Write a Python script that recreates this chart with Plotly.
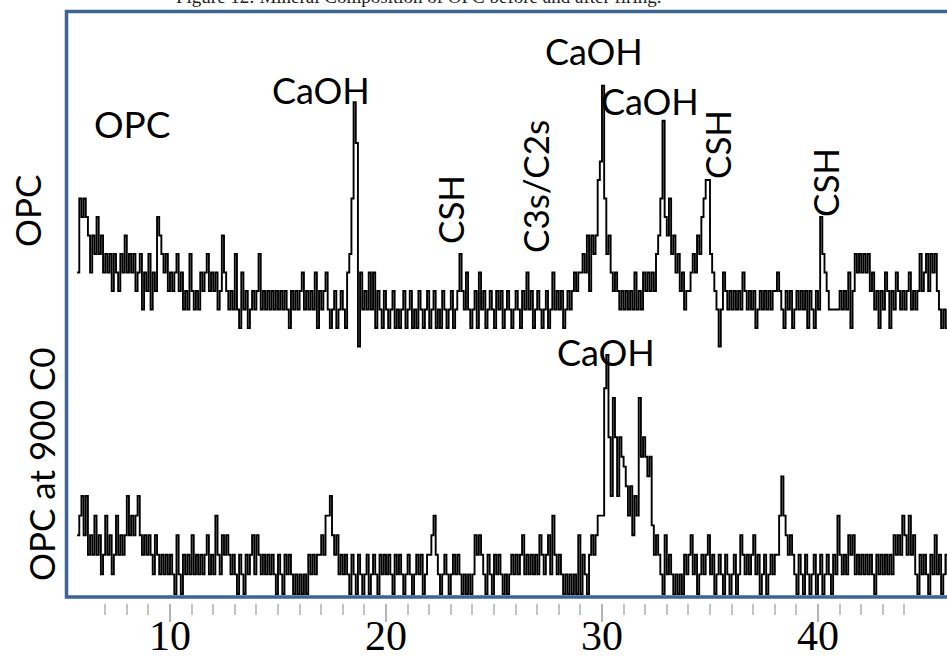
import plotly.graph_objects as go

# ---------------- data ----------------
TWO_THETA_START = 5.7   # degrees 2-theta of first sample
TWO_THETA_STEP = 0.1    # sampling step (degrees)

# intensity levels (counts, arbitrary units) of the untreated OPC pattern
OPC = [
    3, 7, 6,
    7, 6, 5, 3, 5, 4, 6, 4, 5, 3,
    4, 3, 4, 2, 4, 3, 2, 4, 3, 5,
    3, 4, 3, 4, 2, 3, 4, 1, 3, 2,
    4, 1, 3, 2, 6, 5, 4, 3, 4, 2,
    3, 2, 3, 4, 2, 3, 1, 2, 1, 4,
    2, 1, 2, 1, 3, 2, 3, 4, 2, 3,
    2, 3, 1, 2, 5, 3, 2, 1, 2, 1,
    4, 1, 0, 3, 1, 2, 0, 1, 2, 1,
    2, 4, 1, 2, 1, 2, 1, 2, 1, 2,
    1, 2, 1, 2, 1, 0, 2, 1, 2, 1,
    2, 3, 1, 2, 1, 2, 1, 3, 0, 2,
    1, 2, 3, 1, 0, 1, 2, 0, 1, 2,
    1, 0, 3, 4, 7, 12.2, 10, -1, 3, 1,
    2, 1, 3, 1, 3, 0, 2, 1, 0, 2,
    1, 0, 1, 2, 0, 1, 0, 1, 2, 0,
    1, 2, 0, 1, 0, 2, 1, 0, 1, 2,
    0, 1, 2, 0, 1, 0, 2, 1, 0, 1,
    2, 0, 1, 2, 4, 2, 1, 3, 1, 0,
    1, 2, 0, 3, 1, 2, 0, 1, 2, 1,
    0, 2, 1, 2, 0, 1, 2, 1, 0, 1,
    2, 1, 0, 2, 1, 3, 1, 2, 0, 1,
    2, 1, 0, 1, 2, 0, 1, 3, 1, 2,
    1, 2, 0, 1, 2, 1, 2, 3, 2, 3,
    3, 4, 3, 5, 2, 5, 4, 5, 8, 9,
    13.1, 7, 4, 5, 3, 2, 3, 2, 1, 2,
    1, 2, 1, 2, 1, 3, 1, 2, 1, 3,
    2, 3, 2, 3, 2, 4, 5, 7, 11.2, 6,
    5, 7, 4, 5, 3, 4, 2, 3, 1, 2,
    2, 3, 4, 3, 5, 4, 6, 7, 8, 8,
    4, 3, 2, 1, -1, 1, 3, 2, 1, 2,
    1, 2, 1, 2, 1, 3, 2, 1, 2, 1,
    2, 0, 1, 2, 1, 2, 1, 2, 1, 2,
    2, 3, 2, 1, 0, 2, 1, 2, 0, 1,
    2, 1, 2, 1, 2, 0, 2, 1, 0, 2,
    1, 6, 4, 3, 2, 1, 1, 1, 1, 1,
    2, 1, 2, 1, 3, 0, 2, 4, 3, 4,
    3, 4, 3, 4, 2, 3, 1, 2, 0, 2,
    1, 3, 2, 0, 2, 1, 3, 2, 1, 2,
    1, 2, 3, 1, 2, 1, 2, 4, 2, 3,
    4, 2, 4, 3, 4, 2, 1, 0, 1, 0,
    1,
]

# intensity levels of OPC fired at 900 C
OPC_900 = [
    3, 4, 5,
    3, 5, 2, 3, 2, 4, 2, 3, 1, 2,
    4, 2, 3, 1, 2, 4, 2, 3, 2, 3,
    5, 3, 4, 3, 4, 5, 3, 2, 3, 2,
    3, 2, 1, 3, 2, 1, 2, 1, 2, 1,
    2, 1, 0, 3, 1, 0, 2, 1, 2, 1,
    3, 1, 2, 1, 2, 1, 2, 3, 1, 2,
    1, 4, 2, 1, 3, 2, 3, 2, 1, 2,
    1, 0, 2, 1, 0, 2, 1, 2, 3, 1,
    3, 2, 1, 2, 1, 2, 1, 2, 1, 0,
    2, 1, 0, 2, 1, 2, 1, 0, 1, 0,
    1, 0, 1, 0, 2, 1, 2, 1, 2, 2,
    3, 2, 4, 4, 5, 3, 2, 3, 1, 2,
    1, 2, 1, 0, 2, 1, 0, 2, 1, 0,
    1, 2, 0, 1, 2, 1, 0, 2, 1, 2,
    1, 2, 1, 0, 2, 1, 2, 1, 0, 1,
    2, 1, 0, 1, 2, 1, 2, 0, 1, 2,
    2, 3, 4, 2, 1, 0, 1, 2, 1, 0,
    1, 2, 1, 2, 1, 0, 1, 0, 1, 0,
    1, 3, 2, 3, 2, 1, 0, 2, 1, 0,
    2, 1, 2, 1, 0, 1, 0, 1, 2, 1,
    2, 1, 2, 3, 1, 2, 1, 2, 1, 2,
    1, 3, 2, 1, 2, 3, 1, 4, 2, 1,
    2, 1, 0, 1, 0, 1, 0, 1, 0, 3,
    0, 2, 1, 0, 2, 3, 2, 3, 4, 4,
    4, 10.5, 12.2, 8, 5, 10, 8, 5, 8, 7,
    6.5, 5.5, 4, 5.5, 3, 5, 4, 10, 7, 8,
    7, 6, 7, 3.5, 2, 3, 2, 1, 0, 3,
    1, 2, 1, 0, 1, 0, 1, 0, 2, 1,
    2, 3, 1, 2, 0, 1, 2, 1, 2, 3,
    1, 2, 0, 1, 2, 1, 0, 2, 1, 0,
    1, 2, 0, 1, 3, 2, 1, 2, 1, 2,
    3, 1, 2, 0, 1, 2, 0, 1, 2, 1,
    2, 2, 4, 6, 4, 3, 2, 3, 2, 1,
    0, 2, 1, 0, 2, 1, 0, 1, 2, 0,
    1, 2, 0, 1, 2, 1, 0, 2, 1, 4,
    2, 1, 2, 1, 3, 2, 3, 1, 2, 1,
    2, 1, 2, 1, 2, 1, 0, 2, 1, 2,
    1, 2, 1, 2, 1, 3, 2, 3, 2, 4,
    3, 2, 4, 2, 3, 1, 0, 2, 1, 2,
    1, 0, 2, 1, 3, 1, 2, 0, 1, 2,
    1,
]

MAJOR_TICKS = [10, 20, 30, 40]
MINOR_TICKS = [7, 8, 9, 11, 12, 13, 14, 15, 16, 17, 18, 19, 21, 22, 23, 24, 25, 26,
               27, 28, 29, 31, 32, 33, 34, 35, 36, 37, 38, 39, 41, 42, 43, 44]

CAPTION = "Figure 12: Mineral Composition of OPC before and after firing."
ROW_LABELS = ["OPC", "OPC at 900 C0"]
PEAK_LABELS = ["OPC", "CaOH", "CSH", "C3s/C2s", "CaOH", "CaOH", "CSH", "CSH", "CaOH"]

# ---------------- layout / styling ----------------
W, H = 947, 670
ML, MT, MB = 67, 10, 67
PW, PH = W - ML, H - MT - MB

def xp(px):
    return (px - ML) / PW

def yp(py):
    return (H - MB - py) / PH

x = [round(TWO_THETA_START + i * TWO_THETA_STEP, 3) for i in range(len(OPC))]

# vertical placement of the two stacked patterns (y axis in plot pixels from bottom)
TOP_OFFSET, TOP_SCALE = 275.0, 18.5
BOT_OFFSET, BOT_SCALE = 9.0, 19.6
y_top = [TOP_OFFSET + TOP_SCALE * v for v in OPC]
y_bot = [BOT_OFFSET + BOT_SCALE * v for v in OPC_900]

fig = go.Figure()
for yy, name in ((y_top, ROW_LABELS[0]), (y_bot, ROW_LABELS[1])):
    fig.add_trace(go.Scatter(x=x, y=yy, mode="lines", name=name,
                             line=dict(color="black", width=1.9, shape="hv"),
                             hoverinfo="skip", showlegend=False))

SANS = "Lato, 'Open Sans', sans-serif"
SERIF = "'Liberation Serif', 'Times New Roman', serif"

annotations = []
# peak / panel labels : (px, py, angle, size)
peak_pos = [(132, 123, 0, 37), (321, 90, 0, 36), (450, 210, -90, 35), (535, 187, -90, 35),
            (594, 51, 0, 36), (650, 101, 0, 36), (717, 145, -90, 35), (825, 183, -90, 35),
            (606, 352, 0, 36)]
for txt, (px, py, ang, sz) in zip(PEAK_LABELS, peak_pos):
    annotations.append(dict(text=txt, x=xp(px), y=yp(py), xref="paper", yref="paper",
                            showarrow=False, textangle=ang, xanchor="center", yanchor="middle",
                            font=dict(family=SANS, size=sz, color="black")))
row_pos = [(27, 211), (41, 464)]
for txt, (px, py) in zip(ROW_LABELS, row_pos):
    annotations.append(dict(text=txt, x=xp(px), y=yp(py), xref="paper", yref="paper",
                            showarrow=False, textangle=-90, xanchor="center", yanchor="middle",
                            font=dict(family=SANS, size=35, color="black")))
annotations.append(dict(text=CAPTION, x=xp(418), y=yp(-3), xref="paper", yref="paper",
                        showarrow=False, xanchor="center", yanchor="middle",
                        font=dict(family=SERIF, size=19, color="#222222")))

shapes = [dict(type="rect", xref="paper", yref="paper", x0=xp(66.5), x1=1.05,
               y0=yp(597), y1=yp(11.5), line=dict(color="#3e6494", width=3.5),
               fillcolor="rgba(0,0,0,0)", layer="above")]

px_per_deg = 21.6
x0 = 10 - (170 - ML) / px_per_deg
x1 = x0 + PW / px_per_deg

fig.update_layout(
    width=W, height=H,
    margin=dict(l=ML, r=0, t=MT, b=MB, pad=0, autoexpand=False),
    paper_bgcolor="white", plot_bgcolor="white",
    showlegend=False,
    annotations=annotations, shapes=shapes,
    xaxis=dict(range=[x0, x1], showgrid=False, zeroline=False, showline=False,
               automargin=False,
               tickmode="array", tickvals=MAJOR_TICKS, ticktext=[str(t) for t in MAJOR_TICKS],
               ticks="outside", ticklen=18, tickwidth=2, tickcolor="#b4b4b4",
               ticklabelstandoff=-22,
               tickfont=dict(family=SERIF, size=42, color="black"),
               minor=dict(tickmode="array", tickvals=MINOR_TICKS, ticks="outside",
                          ticklen=11, tickwidth=2, tickcolor="#c4c4c4", showgrid=False)),
    yaxis=dict(range=[0, PH], visible=False, showgrid=False, zeroline=False,
               automargin=False),
)

fig.write_html("out.html")
